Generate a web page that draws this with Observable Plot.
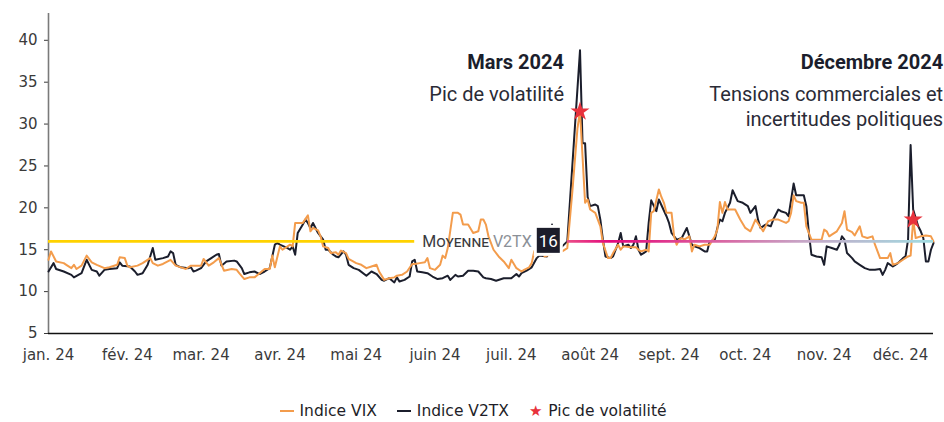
<!DOCTYPE html>
<html><head><meta charset="utf-8">
<script src="https://cdn.jsdelivr.net/npm/d3@7"></script>
<script src="https://cdn.jsdelivr.net/npm/@observablehq/plot@0.6"></script>
<style>
body{margin:0;background:#fff;}
#legend{display:flex;justify-content:center;align-items:center;gap:20px;margin-top:16px;height:20px;
  font-family:"DejaVu Sans",sans-serif;font-size:15.5px;color:#1e1e28;padding-left:2px}
#legend .it{display:flex;align-items:center;gap:6px}
#legend .sw{display:inline-block;width:14px;height:2.5px}
#legend .st{color:#e8323c;font-size:15px;line-height:16px}
</style></head><body>
<div id="chart"></div>
<div id="legend"></div>
<script>
// ---------- DATA ----------
const v2txDates = ["01-01","01-03","01-04","01-07","01-10","01-11","01-14","01-16","01-18","01-20","01-21","01-23","01-25","01-28","01-29","01-30",
"02-02","02-04","02-05","02-07","02-09","02-11","02-12","02-15","02-17","02-18","02-19","02-20","02-22","02-25","02-26","02-27","02-28",
"03-01","03-03","03-05","03-07","03-08","03-09","03-11","03-14","03-15","03-17","03-18","03-20","03-22","03-24","03-26","03-28","03-30","03-31",
"04-01","04-04","04-05","04-06","04-07","04-08","04-10","04-11","04-12","04-13","04-14","04-16","04-18","04-19","04-20","04-22","04-23","04-24","04-26","04-27","04-28","04-30",
"05-02","05-05","05-07","05-09","05-11","05-12","05-14","05-16","05-17","05-18","05-20","05-22","05-23","05-24","05-25","05-27","05-29","05-31",
"06-02","06-04","06-06","06-07","06-09","06-10","06-12","06-14","06-16","06-18","06-20","06-21","06-23","06-25","06-28",
"07-01","07-03","07-04","07-05","07-07","07-09","07-11","07-12","07-15","07-17","07-19","07-21","07-23","07-28","07-29","07-30","07-31",
"08-01","08-03","08-04","08-05","08-06","08-07","08-09","08-10","08-12","08-13","08-14","08-16","08-17","08-18","08-19","08-20","08-21","08-22","08-23","08-24","08-25","08-27","08-28","08-31",
"09-01","09-02","09-04","09-06","09-07","09-08","09-09","09-10","09-11","09-13","09-15","09-16","09-17","09-19","09-20","09-21","09-22","09-23","09-25","09-26","09-28","09-30",
"10-02","10-03","10-05","10-06","10-07","10-09","10-11","10-12","10-14","10-15","10-17","10-18","10-20","10-21","10-23","10-24","10-25","10-26","10-27","10-29","10-31",
"11-01","11-02","11-04","11-06","11-07","11-08","11-09","11-10","11-12","11-13","11-15","11-17","11-19","11-21","11-23","11-24","11-25","11-26","11-28","11-29","11-30",
"12-02","12-03","12-04","12-05","12-06","12-08","12-09","12-10","12-11","12-12","12-13","12-14"];
const v2txValues = [12.4,13.4,12.7,12.4,12.0,11.7,12.2,13.8,12.6,12.4,11.9,12.6,12.7,12.8,13.5,13.1,
13.0,12.4,12.0,12.2,13.2,15.2,13.8,14.0,14.2,14.8,14.6,13.2,12.9,12.8,12.9,12.4,12.5,
12.8,13.6,14.0,14.4,14.5,13.1,13.6,13.7,13.6,12.8,12.1,12.3,12.4,12.1,12.4,12.8,15.6,15.8,
15.6,15.2,15.0,15.4,14.4,17.0,18.0,18.6,18.2,17.6,18.2,17.0,16.2,15.0,15.0,14.4,14.2,14.1,14.8,14.4,13.2,12.8,
12.6,11.9,12.4,12.1,11.4,11.3,11.6,11.1,11.7,11.2,11.4,11.8,13.6,13.8,12.4,12.3,12.2,11.8,
11.5,11.6,11.9,11.4,12.0,11.8,11.9,12.5,12.5,12.4,11.7,11.6,11.5,11.3,11.6,
11.6,12.1,11.8,12.2,12.5,12.9,14.0,14.3,14.2,18.0,15.0,15.4,16.0,38.8,27.7,27.7,21.3,
20.2,20.4,20.2,18.6,16.2,14.2,14.0,14.2,15.8,17.0,15.4,15.6,15.2,15.6,16.6,15.0,14.4,14.6,14.8,18.2,20.9,19.6,21.0,19.0,
18.2,17.0,16.2,16.4,17.0,17.6,16.6,15.6,15.4,15.2,14.8,14.8,16.0,16.2,17.6,18.6,18.4,19.4,20.6,22.1,20.8,20.6,
20.2,19.4,20.2,18.6,17.6,18.0,17.8,18.6,19.8,19.6,19.4,19.0,22.9,21.5,21.5,21.5,20.2,17.0,14.4,14.2,14.1,
13.2,15.4,15.2,15.0,15.6,16.6,16.2,14.6,14.0,13.6,13.2,12.8,12.6,12.6,12.7,12.0,12.6,13.4,13.0,13.2,13.4,
14.0,14.2,16.2,27.5,19.8,17.8,17.2,16.4,13.6,13.6,15.0,15.8];

const vixDates = ["01-01","01-02","01-04","01-07","01-08","01-10","01-11","01-12","01-14","01-16","01-18","01-20","01-23","01-25","01-28","01-29","01-31",
"02-01","02-02","02-05","02-07","02-10","02-11","02-13","02-15","02-18","02-20","02-23","02-24","02-26",
"03-01","03-02","03-04","03-06","03-08","03-10","03-13","03-15","03-16","03-18","03-20","03-22","03-24","03-26","03-28","03-29","03-30",
"04-01","04-02","04-04","04-05","04-06","04-07","04-10","04-12","04-13","04-14","04-16","04-17","04-18","04-20","04-21","04-23","04-24","04-25","04-27","04-28",
"05-01","05-03","05-05","05-07","05-09","05-10","05-12","05-14","05-16","05-17","05-19","05-21","05-23","05-24","05-26","05-28","05-29","05-30",
"06-01","06-03","06-04","06-05","06-06","06-08","06-10","06-11","06-12","06-14","06-16","06-18","06-19","06-20","06-21","06-22","06-24","06-26","06-28","06-30",
"07-01","07-03","07-05","07-06","07-08","07-09","07-10","07-11","07-13","07-14","07-16","07-19","07-21","07-23","07-25","07-27","07-28","07-29","07-30","07-31",
"08-01","08-03","08-05","08-06","08-08","08-09","08-10","08-12","08-13","08-14","08-17","08-19","08-20","08-21","08-23","08-24","08-25","08-26","08-28","08-29","08-30","08-31",
"09-02","09-03","09-04","09-05","09-06","09-07","09-09","09-10","09-11","09-13","09-15","09-17","09-19","09-20","09-21","09-22","09-23","09-24","09-26","09-27","09-29",
"10-01","10-03","10-05","10-08","10-09","10-10","10-12","10-14","10-17","10-18","10-19","10-20","10-21","10-23","10-24","10-25","10-27","10-29","10-31",
"11-01","11-02","11-03","11-04","11-06","11-08","11-09","11-10","11-12","11-13","11-15","11-16","11-18","11-20","11-21","11-23","11-25","11-26","11-27","11-28","11-30",
"12-02","12-04","12-05","12-06","12-07","12-09","12-11","12-13","12-14"];
const vixValues = [13.8,14.8,13.6,13.4,13.2,12.8,13.2,12.7,13.1,14.3,13.5,13.2,12.8,12.9,13.2,14.1,14.0,
13.1,12.9,13.1,13.4,14.0,13.4,13.1,13.3,13.8,13.1,12.8,12.7,13.1,
13.1,13.9,13.1,13.5,14.0,12.5,12.7,12.6,12.2,11.5,11.7,11.7,12.2,12.7,12.7,14.3,12.9,
15.4,15.0,15.4,15.6,15.4,18.2,18.2,19.1,17.2,17.6,17.3,16.6,15.4,15.2,14.6,14.7,14.4,14.9,14.6,13.9,
13.4,13.2,12.8,13.0,13.2,12.4,11.4,11.6,11.7,11.9,12.0,12.4,13.3,13.3,13.4,13.5,14.0,12.8,
12.6,13.2,14.3,14.0,15.2,19.4,19.4,19.2,18.0,18.0,17.0,17.2,18.6,18.6,18.0,16.6,15.0,14.2,13.6,12.8,
13.8,12.8,12.4,12.6,12.9,13.4,14.8,15.4,15.8,14.2,14.4,14.6,14.8,15.2,22.0,29.5,31.5,26.1,20.6,21.0,
19.8,19.4,17.8,15.8,14.0,14.0,14.6,15.6,15.0,15.4,15.3,15.3,15.0,14.8,15.0,14.8,19.4,19.6,22.2,21.3,20.6,19.4,
19.4,16.6,15.6,16.2,16.4,16.2,16.6,14.8,15.6,15.4,15.6,15.6,16.6,17.4,20.7,19.4,20.7,19.8,19.8,19.8,18.6,
17.6,17.2,18.6,17.2,17.8,18.4,18.6,18.6,18.2,18.4,19.4,21.5,20.8,20.6,20.6,17.8,16.2,16.2,16.2,
17.4,17.2,16.6,16.8,17.2,18.2,19.6,17.4,17.1,16.7,17.8,16.6,16.4,16.6,15.6,14.0,14.0,14.0,14.6,13.2,13.4,
13.8,14.2,14.3,18.6,16.4,16.6,16.7,16.6,16.0];

const peakDates = ["07-28","12-06"];
const peakValues = [31.5, 18.6];
const peakTitles = ["Mars 2024","Décembre 2024"];
const peakTexts = ["Pic de volatilité","Tensions commerciales et\nincertitudes politiques"];

const avgValue = 16;
const avgLabelWord = "Moyenne";
const avgLabelSeries = "V2TX";
const avgYellow = ["01-01","05-24"];
const avgGradient = ["07-23","12-14"];

const monthLabels = ["jan. 24","fév. 24","mar. 24","avr. 24","mai 24","juin 24","juil. 24","août 24","sept. 24","oct. 24","nov. 24","déc. 24"];
const yTicks = [5,10,15,20,25,30,35,40];
const xDomain = ["01-01","12-14"];
const seriesNames = ["Indice VIX","Indice V2TX","Pic de volatilité"];

// ---------- BUILD ----------
const D = s => new Date("2024-" + s + "T00:00:00Z");
const v2tx = v2txDates.map((d,i) => ({date: D(d), value: v2txValues[i]}));
const vix = vixDates.map((d,i) => ({date: D(d), value: vixValues[i]}));
const peaks = peakDates.map((d,i) => ({date: D(d), value: peakValues[i], title: peakTitles[i], text: peakTexts[i]}));
const monthTicks = monthLabels.map((_, i) => new Date(Date.UTC(2024, i, 1)));

const COL_VIX = "#f39c4c", COL_V2TX = "#1b1e2c", COL_STAR = "#e8323c";

// average label + gradient definition, positioned through the plot's scales
const labelMark = (index, {x, y}) => {
  const g = d3.create("svg:g");
  const xa = x(D(avgYellow[1])), xb = x(D(avgGradient[0])), xe = x(D(avgGradient[1])), yy = y(avgValue);
  const grad = g.append("defs").append("linearGradient").attr("id", "avgGrad")
    .attr("gradientUnits", "userSpaceOnUse").attr("x1", xb).attr("x2", xe).attr("y1", yy).attr("y2", yy);
  [[0,"#ea4f88"],[0.12,"#e3077c"],[0.38,"#dc5a9c"],[0.65,"#c6a7c7"],[1,"#a0dce1"]]
    .forEach(([o,c]) => grad.append("stop").attr("offset", o).attr("stop-color", c));
  const t = g.append("text").attr("x", xa + 8).attr("y", yy).attr("dy", "0.36em")
    .attr("text-anchor", "start").attr("font-family", "Roboto").attr("font-size", 16);
  t.append("tspan").attr("font-variant", "small-caps").attr("fill", "#3a3a3e").text(avgLabelWord);
  t.append("tspan").attr("fill", "#8b9097").text(" " + avgLabelSeries);
  g.append("rect").attr("x", xb - 30).attr("y", yy - 13).attr("width", 23).attr("height", 25)
    .attr("fill", "#1c1d2b").attr("stroke", "white").attr("stroke-width", 6).attr("paint-order", "stroke");
  g.append("text").attr("x", xb - 18.5).attr("y", yy).attr("dy", "0.36em").attr("text-anchor", "middle")
    .attr("font-family", "Roboto").attr("font-size", 17).attr("fill", "white").text(String(avgValue));
  return g.node();
};

const titleOpts = {x: "date", text: "title", frameAnchor: "top", dy: 49.5, lineAnchor: "middle", textAnchor: "end",
  fontFamily: "Roboto", fontWeight: "bold", fontSize: 20, fill: "#1b1e2c"};
const subOpts = {x: "date", text: "text", frameAnchor: "top", dy: 70, lineHeight: 1.25, lineAnchor: "top", textAnchor: "end",
  fontFamily: "Roboto", fontSize: 20, fill: "#2a2b36"};

const chart = Plot.plot({
  width: 944, height: 385,
  marginLeft: 48, marginRight: 11, marginTop: 13, marginBottom: 52,
  style: {fontFamily: "DejaVu Sans", fontSize: "15px", color: "#3a3a3a", background: "white", overflow: "visible"},
  x: {type: "utc", domain: xDomain.map(D), ticks: monthTicks, tickFormat: d => monthLabels[d.getUTCMonth()],
      tickSize: 0, tickPadding: 16, label: null},
  y: {domain: [5, 43.2], ticks: yTicks, tickSize: 4, tickPadding: 7, label: null},
  marks: [
    Plot.ruleX([D(xDomain[0])], {stroke: "#7a7a7a", strokeWidth: 1.6}),
    Plot.ruleY([5], {stroke: "#111", strokeWidth: 1.4}),
    Plot.line(v2tx, {x: "date", y: "value", stroke: COL_V2TX, strokeWidth: 2}),
    Plot.line(vix, {x: "date", y: "value", stroke: COL_VIX, strokeWidth: 2}),
    Plot.ruleY([avgValue], {x1: D(avgYellow[0]), x2: D(avgYellow[1]), stroke: "#ffd200", strokeWidth: 2.6}),
    Plot.ruleY([avgValue], {x1: D(avgGradient[0]), x2: D(avgGradient[1]), stroke: "url(#avgGrad)", strokeWidth: 2.6}),
    labelMark,
    Plot.dot(peaks, {x: "date", y: "value", symbol: "star", r: 6, fill: COL_STAR, stroke: "none"}),
    Plot.text([peaks[0]], {...titleOpts, dx: -16}),
    Plot.text([peaks[0]], {...subOpts, dx: -16}),
    Plot.text([peaks[1]], {...titleOpts, dx: 30}),
    Plot.text([peaks[1]], {...subOpts, dx: 30})
  ]
});
document.getElementById("chart").appendChild(chart);

document.getElementById("legend").innerHTML =
  `<span class="it"><span class="sw" style="background:${COL_VIX}"></span>${seriesNames[0]}</span>` +
  `<span class="it"><span class="sw" style="background:${COL_V2TX}"></span>${seriesNames[1]}</span>` +
  `<span class="it"><span class="st">★</span>${seriesNames[2]}</span>`;
</script>
</body></html>
